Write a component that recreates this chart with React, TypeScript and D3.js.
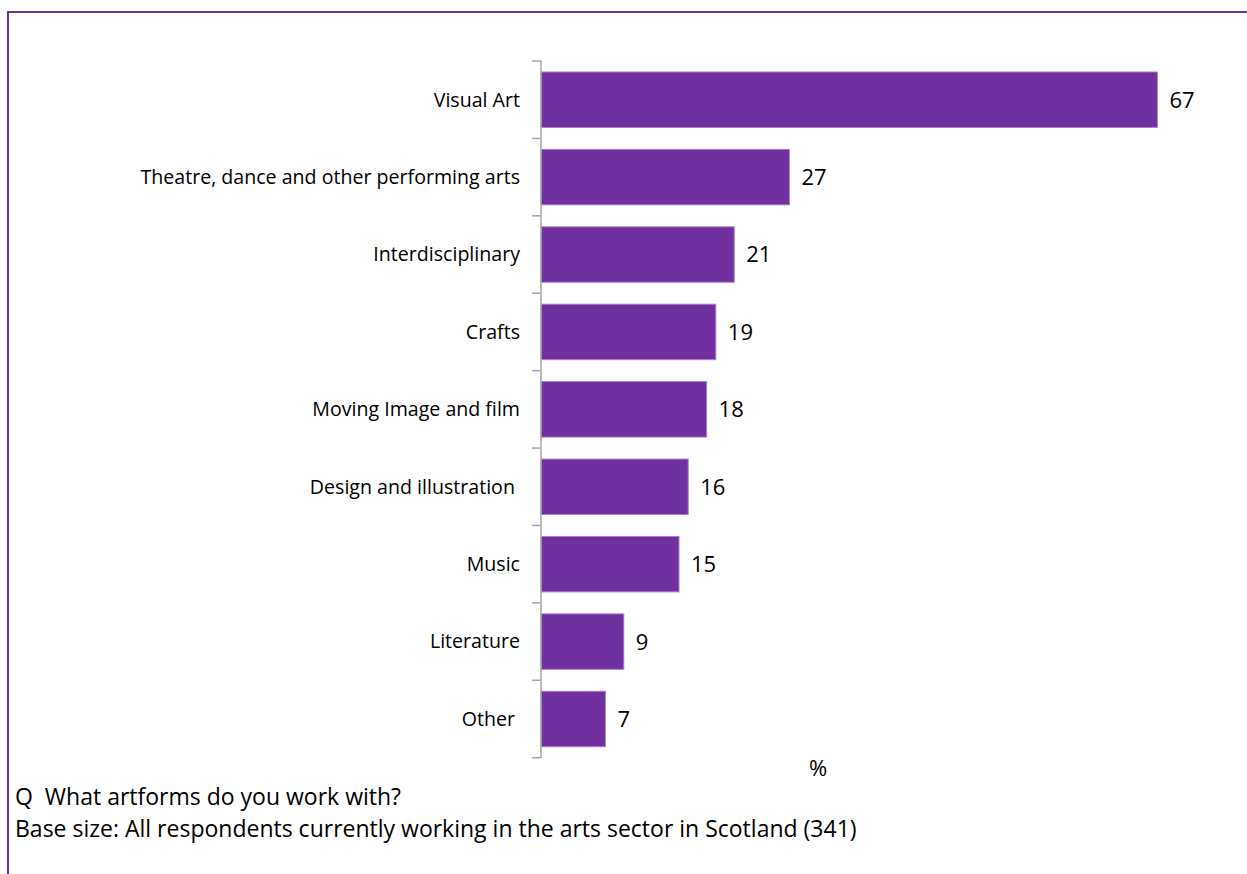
import React from "react";
import * as d3 from "d3";

const categories = [
  "Visual Art",
  "Theatre, dance and other performing arts",
  "Interdisciplinary",
  "Crafts",
  "Moving Image and film",
  "Design and illustration ",
  "Music",
  "Literature",
  "Other ",
];
const values = [67, 27, 21, 19, 18, 16, 15, 9, 7];
const axisUnit = "%";
const footerLines = [
  "Q  What artforms do you work with?",
  "Base size: All respondents currently working in the arts sector in Scotland (341)",
];

const W = 1247;
const H = 874;
const PURPLE = "#7030A0";
const FONT = "'Open Sans', sans-serif";

export default function App() {
  const axisX = 541;
  const x = d3.scaleLinear().domain([0, 70]).range([axisX, 1185]);
  const y = d3
    .scaleBand<string>()
    .domain(categories)
    .range([61, 757.7])
    .paddingInner(0.284)
    .paddingOuter(0.142);
  const step = y.step();
  const top = 61;
  const ticks = d3.range(categories.length + 1).map((i) => top + i * step);

  return (
    <svg
      width={W}
      height={H}
      style={{ position: "absolute", left: 0, top: 0, display: "block", background: "#fff" }}
    >
      {/* frame */}
      <line x1={8} y1={12} x2={W} y2={12} stroke={PURPLE} strokeWidth={2} />
      <line x1={8} y1={11} x2={8} y2={H} stroke={PURPLE} strokeWidth={2} />

      {/* bars */}
      {categories.map((c, i) => (
        <g key={c}>
          <rect
            x={x(0)}
            y={y(c)!}
            width={x(values[i]) - x(0)}
            height={y.bandwidth()}
            fill={PURPLE}
            stroke="#a47fc6"
            strokeWidth={1}
          />
          <text
            x={x(values[i]) + 12}
            y={y(c)! + y.bandwidth() / 2}
            dy="0.36em"
            fontFamily={FONT}
            fontSize={22}
            fill="#000"
          >
            {values[i]}
          </text>
          <text
            x={axisX - 21}
            y={y(c)! + y.bandwidth() / 2}
            dy="0.35em"
            textAnchor="end"
            fontFamily={FONT}
            fontSize={19.6}
            fill="#000"
            style={{ whiteSpace: "pre" }}
          >
            {c}
          </text>
        </g>
      ))}

      {/* axis */}
      <line x1={axisX} y1={top} x2={axisX} y2={ticks[ticks.length - 1]} stroke="#a6a6a6" strokeWidth={1.5} />
      {ticks.map((t, i) => (
        <line key={i} x1={axisX - 9} y1={t} x2={axisX} y2={t} stroke="#a6a6a6" strokeWidth={1.5} />
      ))}

      <text x={818} y={768} dy="0.35em" textAnchor="middle" fontFamily={FONT} fontSize={22} fill="#000">
        {axisUnit}
      </text>

      {footerLines.map((l, i) => (
        <text
          key={i}
          x={15}
          y={797 + i * 32}
          dy="0.35em"
          fontFamily={FONT}
          fontSize={23}
          fill="#000"
          style={{ whiteSpace: "pre" }}
        >
          {l}
        </text>
      ))}
    </svg>
  );
}
